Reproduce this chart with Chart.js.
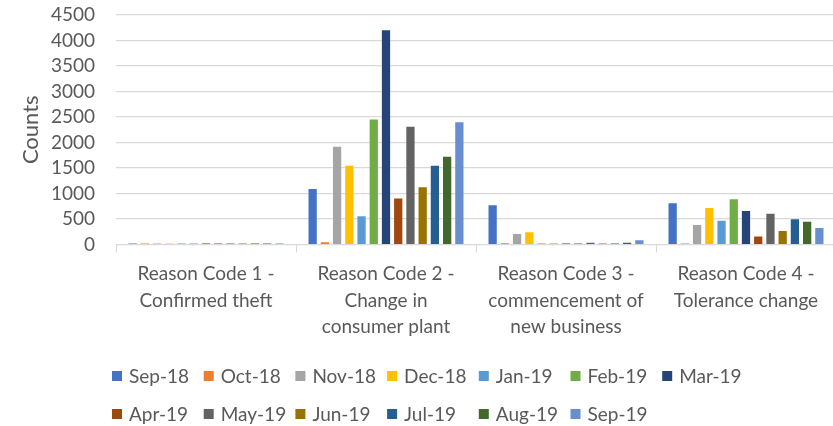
<!DOCTYPE html>
<html>
<head>
<meta charset="utf-8">
<script src="https://cdn.jsdelivr.net/npm/chart.js@4/dist/chart.umd.min.js"></script>
<style>
    html, body { margin: 0; padding: 0; background: #ffffff; overflow: hidden; }
    #wrap { position: relative; width: 836px; height: 426px; }
</style>
</head>
<body>
<div id="wrap"><canvas id="reasonChart"></canvas></div>
<script>
// Reason codes (x axis), split into label lines
const reasons = [
    ['Reason Code 1 -', 'Confirmed theft'],
    ['Reason Code 2 -', 'Change in', 'consumer plant'],
    ['Reason Code 3 -', 'commencement of', 'new business'],
    ['Reason Code 4 -', 'Tolerance change']
];

const months = ['Sep-18', 'Oct-18', 'Nov-18', 'Dec-18', 'Jan-19', 'Feb-19', 'Mar-19',
                'Apr-19', 'May-19', 'Jun-19', 'Jul-19', 'Aug-19', 'Sep-19'];

const monthColors = ['#4472C4', '#ED7D31', '#A5A5A5', '#FFC000', '#5B9BD5', '#70AD47', '#264478',
                     '#9E480E', '#636363', '#997300', '#255E91', '#43682B', '#698ED0'];

// Counts per month, one list per reason code
const code1 = [30, 30, 30, 30, 30, 30, 30, 30, 30, 30, 30, 30, 30];
const code2 = [1110, 65, 1935, 1565, 575, 2470, 4220, 920, 2330, 1140, 1565, 1740, 2415];
const code3 = [790, 35, 225, 260, 30, 30, 30, 30, 55, 30, 30, 55, 105];
const code4 = [830, 30, 400, 735, 485, 905, 675, 175, 625, 285, 515, 465, 345];

// y axis: 0 to 4500 in steps of 500
const yMax = 4500;
const yStep = 500;

const textGrey = '#595959';
const gridGrey = '#D9D9D9';

Chart.defaults.font.family = 'Lato, "Open Sans", sans-serif';
Chart.defaults.color = textGrey;

const datasets = months.map((m, i) => ({
    label: m,
    data: [code1[i], code2[i], code3[i], code4[i]],
    backgroundColor: monthColors[i],
    borderColor: 'rgba(255,255,255,0.2)',
    borderWidth: 1,
    categoryPercentage: 0.883,
    barPercentage: 0.84
}));

// Legend laid out as a fixed grid of 7 columns, two rows
const gridLegend = {
    id: 'gridLegend',
    afterDraw(chart) {
        const ctx = chart.ctx;
        const colX = 112, colStep = 91.7, rowY = [376, 414], box = 10;
        ctx.save();
        ctx.font = '19px Lato';
        ctx.textBaseline = 'middle';
        ctx.textAlign = 'left';
        months.forEach((m, i) => {
            const x = colX + (i % 7) * colStep;
            const y = rowY[Math.floor(i / 7)];
            ctx.fillStyle = monthColors[i];
            ctx.fillRect(x, y - box / 2, box, box);
            ctx.fillStyle = textGrey;
            ctx.fillText(m, x + box + 7, y + 1);
        });
        ctx.restore();
    }
};

new Chart(document.getElementById('reasonChart'), {
    type: 'bar',
    data: { labels: reasons, datasets: datasets },
    plugins: [gridLegend],
    options: {
        responsive: true,
        maintainAspectRatio: false,
        animation: false,
        layout: { padding: { top: 15, left: 0, right: 0, bottom: 0 } },
        plugins: {
            legend: { display: false },
            tooltip: { enabled: false }
        },
        scales: {
            x: {
                afterFit: (scale) => { scale.height = 181.5; },
                grid: {
                    offset: true,
                    drawOnChartArea: false,
                    drawTicks: true,
                    tickLength: 8,
                    color: gridGrey
                },
                border: { display: true, color: gridGrey, width: 1 },
                ticks: {
                    padding: 8,
                    maxRotation: 0,
                    autoSkip: false,
                    color: textGrey,
                    font: { size: 19, lineHeight: 1.4 }
                }
            },
            y: {
                min: 0,
                max: yMax,
                afterFit: (scale) => { scale.width = 116; },
                // invisible tick marks keep the labels clear of the plot
                grid: { color: gridGrey, lineWidth: 1.2, drawTicks: true, tickLength: 18, tickColor: 'rgba(0,0,0,0)' },
                border: { display: false },
                ticks: {
                    stepSize: yStep,
                    autoSkip: false,
                    padding: 3,
                    color: textGrey,
                    font: { size: 19 },
                    callback: (v) => String(v)
                },
                title: {
                    display: true,
                    text: 'Counts',
                    color: textGrey,
                    font: { size: 22 },
                    padding: { top: 18, bottom: 0 }
                }
            }
        }
    }
});
</script>
</body>
</html>
